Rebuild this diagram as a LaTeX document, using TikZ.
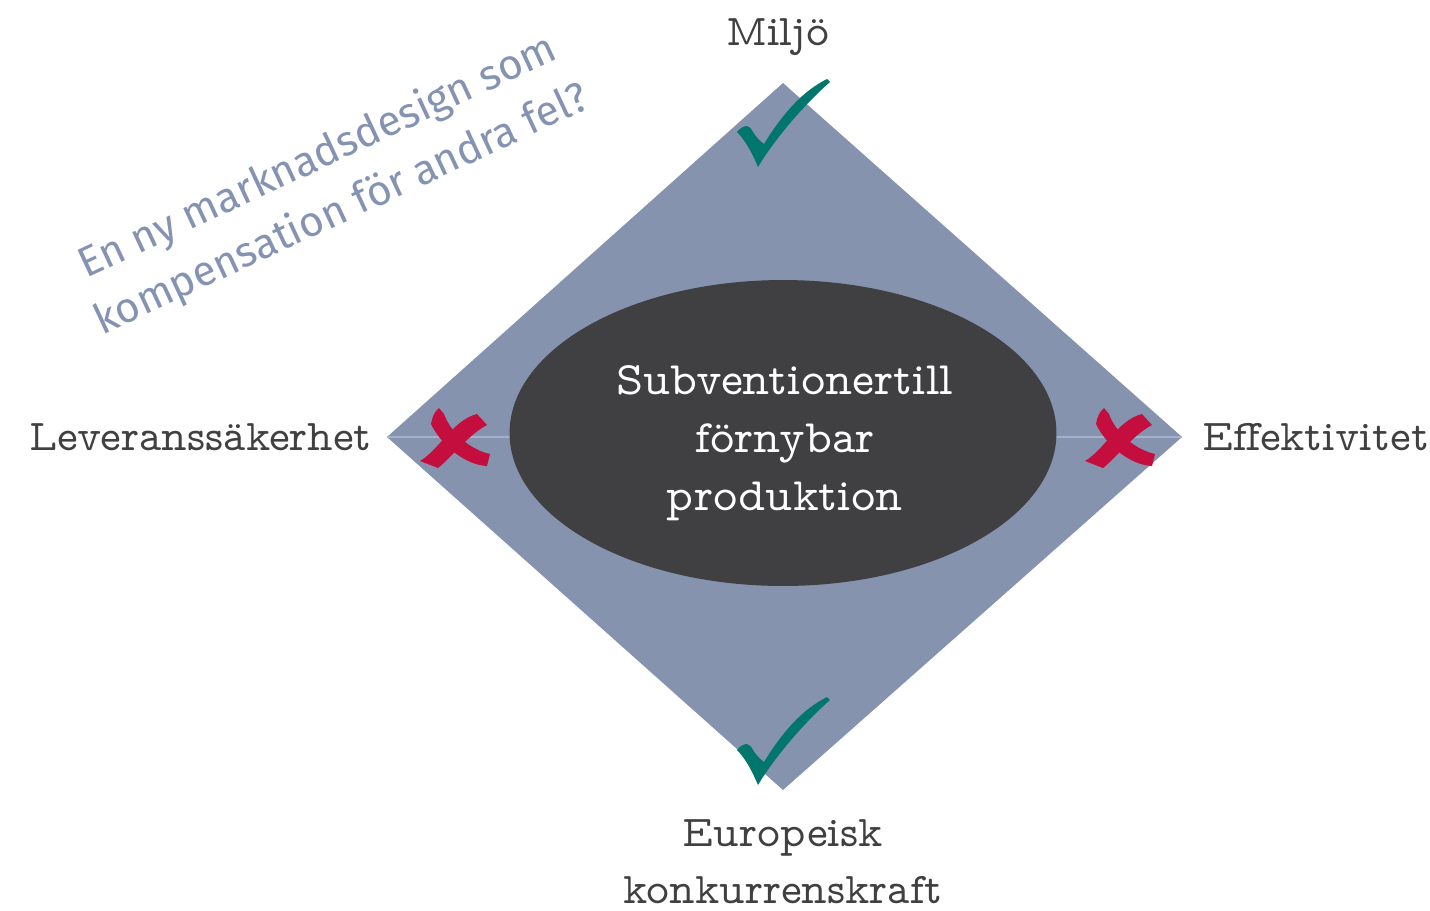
\documentclass[tikz,border=0pt]{standalone}
\usepackage{fontspec}
\usetikzlibrary{shapes.geometric}
\newfontfamily\labelfont{lmmonoprop10-regular.otf}
\newfontfamily\notefont{Fira Sans}
\definecolor{diamondblue}{RGB}{134,147,175}
\definecolor{axisblue}{RGB}{165,176,202}
\definecolor{coregray}{RGB}{64,64,67}
\definecolor{labelgray}{RGB}{64,64,64}
\definecolor{notegray}{RGB}{133,147,178}
\definecolor{tickgreen}{RGB}{0,118,108}
\definecolor{crossred}{RGB}{196,14,62}
\tikzset{
  cornerlabel/.style={font=\labelfont\fontsize{25}{32.5}\selectfont, text=labelgray, inner sep=0pt, align=center},
  core/.style={ellipse, fill=coregray, minimum width=10.94cm, minimum height=6.12cm, inner sep=0pt},
  coretext/.style={text=white, align=center, inner sep=0pt, font=\labelfont\fontsize{26.5}{33}\selectfont},
  tick/.pic={
    \fill[tickgreen] (0,0) .. controls (-5,-12) and (-12,-26) .. (-21,-35)
      .. controls (-18,-39) and (-14,-41) .. (-11,-41)
      .. controls (-8,-40) and (-6,-38) .. (-5,-35)
      .. controls (-2,-30) and (2,-26) .. (6,-23)
      .. controls (25,-54) and (45,-76) .. (69,-88) -- (72,-85)
      .. controls (48,-64) and (18,-30) .. (0,0) -- cycle;
  },
  cross/.pic={
    \fill[crossred] (-16,-29) -- (-11,-23) .. controls (-5,-6) and (13,12) .. (35,17)
      -- (32,29) .. controls (10,28) and (-14,8) .. (-24,-13)
      .. controls (-23,-20) and (-20,-26) .. (-16,-29) -- cycle;
    \fill[crossred] (22,-23) -- (32,-12) .. controls (13,-2) and (-3,20) .. (-17,31)
      -- (-35,24) .. controls (-16,13) and (-2,-17) .. (22,-23) -- cycle;
  }
}
\begin{document}
\begin{tikzpicture}[x=0.02cm,y=-0.02cm]
  \useasboundingbox (0,0) rectangle (1430,910);
  % diamond
  \coordinate (top) at (783,83);
  \coordinate (bottom) at (783,790);
  \coordinate (left) at (387,437);
  \coordinate (right) at (1182,437);
  \fill[diamondblue] (top) -- (right) -- (bottom) -- (left) -- cycle;
  \draw[axisblue, line width=0.6pt] (left) -- (right);
  \node[core] (centre) at (783,433) {};
  \node[coretext] (subsidy) at (785,443) {Subventionertill\\förnybar\\produktion};
  % marks
  \pic at (758,167) {tick};
  \pic at (758,785) {tick};
  \pic at (455,437) {cross};
  \pic at (1120,437) {cross};
  % labels
  \node[cornerlabel, anchor=base] (miljo) at (778,45) {Miljö};
  \node[cornerlabel, anchor=base east] (supply) at (372,450) {Leveranssäkerhet};
  \node[cornerlabel, anchor=base west] (eff) at (1202,450) {Effektivitet};
  \node[cornerlabel, anchor=north] (europe) at (783,819) {Europeisk\\konkurrenskraft};
  \node[font=\notefont\fontsize{24}{33}\selectfont, text=notegray, rotate=25, align=center] (question) at (330,184)
    {En ny marknadsdesign som\\kompensation för andra fel?};
\end{tikzpicture}
\end{document}
